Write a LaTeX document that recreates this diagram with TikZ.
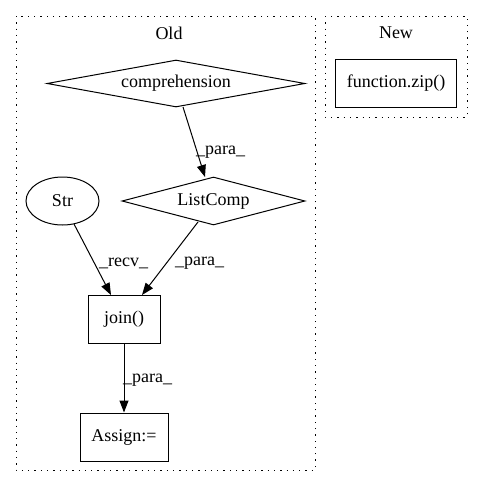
\documentclass[tikz,border=0pt]{standalone}
\usepackage{fontspec}
\setmainfont{Liberation Serif}
\usetikzlibrary{shapes.geometric,arrows.meta}
\begin{document}
\begin{tikzpicture}[x=1pt,y=-1pt,
  every node/.style={font=\fontsize{18}{21}\selectfont, inner sep=0pt},
  cluster/.style={draw, line width=1pt, dash pattern=on 1.3pt off 5pt},
  boxnode/.style={draw, line width=1pt, rectangle, anchor=center},
  dia/.style={draw, line width=1pt, diamond, anchor=center},
  ell/.style={draw, line width=1pt, ellipse, anchor=center},
  edge/.style={draw, line width=1pt, -{Triangle[length=12pt,width=9pt]}},
  elabel/.style={anchor=west}
]
\useasboundingbox (0,0) rectangle (483,488);
\draw[cluster] (16,16) rectangle (315,470);
\draw[cluster] (325,16) rectangle (467,117);
\node (oldlbl) at (169,33) {Old};
\node (newlbl) at (396,33) {New};

\node[dia, aspect=5.5, minimum width=258pt, minimum height=47pt] (comp) at (176,83.5) {comprehension};
\node[boxnode, minimum width=121pt, minimum height=48pt] (zip) at (396,83) {function.zip()};
\node[dia, aspect=3.8, minimum width=183pt, minimum height=48pt] (lc) at (213.5,201) {ListComp};
\node[ell, minimum width=73pt, minimum height=48pt] (str) at (62.5,201) {Str};
\node[boxnode, minimum width=72pt, minimum height=48pt] (join) at (124,319) {join()};
\node[boxnode, minimum width=88pt, minimum height=48pt] (assign) at (124,437) {Assign:=};

\coordinate (c1) at (183,107);
\coordinate (c2) at (205,177);
\draw[edge] (c1) -- (c2);
\coordinate (s1) at (74,224);
\coordinate (j1) at (111,295);
\draw[edge] (s1) -- (j1);
\coordinate (l1) at (198,222);
\coordinate (j2) at (142,295);
\draw[edge] (l1) -- (j2);
\draw[edge] (join.south) -- (assign.north);

\node[elabel] (e1) at (196,152) {\_para\_};
\node[elabel] (e2) at (99,263) {\_recv\_};
\node[elabel] (e3) at (175,263) {\_para\_};
\node[elabel] (e4) at (123,380) {\_para\_};
\end{tikzpicture}
\end{document}
